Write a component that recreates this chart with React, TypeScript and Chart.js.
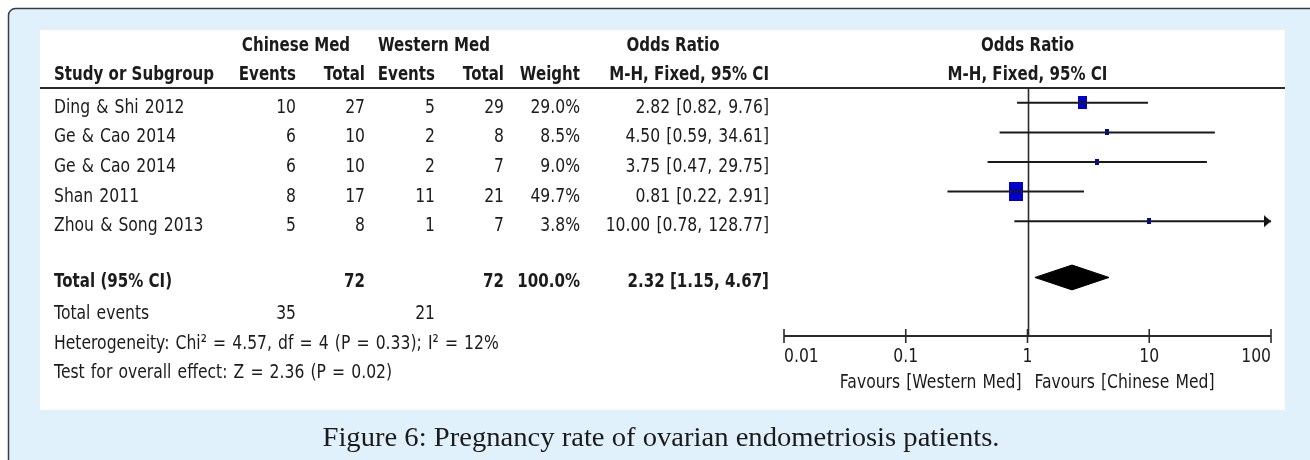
import React, { useEffect, useRef } from "react";
import { Chart, registerables } from "chart.js";

Chart.register(...registerables);

// ---------------- data ----------------
const studies = ["Ding & Shi 2012", "Ge & Cao 2014", "Ge & Cao 2014", "Shan 2011", "Zhou & Song 2013"];
const chineseEvents = [10, 6, 6, 8, 5];
const chineseTotal = [27, 10, 10, 17, 8];
const westernEvents = [5, 2, 2, 11, 1];
const westernTotal = [29, 8, 7, 21, 7];
const weights = [29.0, 8.5, 9.0, 49.7, 3.8];
const oddsRatio = [2.82, 4.5, 3.75, 0.81, 10.0];
const ciLower = [0.82, 0.59, 0.47, 0.22, 0.78];
const ciUpper = [9.76, 34.61, 29.75, 2.91, 128.77];

const totalLabel = "Total (95% CI)";
const totalChinese = 72;
const totalWestern = 72;
const totalWeight = 100.0;
const pooledOR = 2.32;
const pooledLower = 1.15;
const pooledUpper = 4.67;
const totalEventsLabel = "Total events";
const totalEventsChinese = 35;
const totalEventsWestern = 21;
const heterogeneityText = "Heterogeneity: Chi\u00B2 = 4.57, df = 4 (P = 0.33); I\u00B2 = 12%";
const overallEffectText = "Test for overall effect: Z = 2.36 (P = 0.02)";

const axisTicks = [0.01, 0.1, 1, 10, 100];
const axisTickLabels = ["0.01", "0.1", "1", "10", "100"];
const favoursLeft = "Favours [Western Med]";
const favoursRight = "Favours [Chinese Med]";
const caption = "Figure 6: Pregnancy rate of ovarian endometriosis patients.";

// ---------------- layout / style ----------------
const W = 1310;
const H = 460;
const TOTAL_ROW = 5.9;
const FOOT_ROWS = [7, 8, 9];
const HEAD_ROWS = [-2, -1];
const DIAMOND_HALF = 0.42;
const TEXT_COLOR = "#1b1b1b";
const FONT = '"DejaVu Sans", "Liberation Sans", sans-serif';
const FONT_SIZE = 20;

const COL = {
  study: 54,
  ce: 296,
  ct: 365,
  we: 435,
  wt: 504,
  weight: 580,
  ci: 769,
  chineseHead: 296,
  westernHead: 434,
  orHead: 673,
};

const fmtCI = (o: number, l: number, u: number) =>
  `${o.toFixed(2)} [${l.toFixed(2)}, ${u.toFixed(2)}]`;

function makeBox(w: number, h: number, color: string) {
  const c = document.createElement("canvas");
  c.width = Math.max(1, Math.round(w));
  c.height = Math.max(1, Math.round(h));
  const g = c.getContext("2d")!;
  g.fillStyle = color;
  g.fillRect(0, 0, c.width, c.height);
  return c;
}

function makeArrow() {
  const c = document.createElement("canvas");
  c.width = 20;
  c.height = 14;
  const g = c.getContext("2d")!;
  g.fillStyle = "#111";
  g.beginPath();
  g.moveTo(3, 1);
  g.lineTo(10, 7);
  g.lineTo(3, 13);
  g.closePath();
  g.fill();
  return c;
}

export default function App() {
  const ref = useRef<HTMLCanvasElement>(null);

  useEffect(() => {
    document.body.style.margin = "0";
    const canvas = ref.current!;
    const ctx = canvas.getContext("2d")!;

    const maxW = Math.max(...weights);
    const boxes = weights.map((w) => {
      const bw = Math.max(4.2, 13.7 * Math.pow(w / maxW, 0.7));
      return makeBox(bw, bw * 1.36, "#0000c8");
    });
    const arrow = makeArrow();
    const xMax = axisTicks[axisTicks.length - 1];
    const xMin = axisTicks[0];

    const ciSets = studies.map((s, i) => ({
      type: "line" as const,
      label: s,
      data: [
        { x: ciLower[i], y: i },
        { x: ciUpper[i], y: i },
      ],
      borderColor: "#1a1a1a",
      borderWidth: 2,
      pointRadius: 0,
      fill: false,
      tension: 0,
    }));

    const arrowIdx = studies.map((_, i) => i).filter((i) => ciUpper[i] > xMax);

    const datasets: any[] = [
      ...ciSets,
      {
        type: "scatter",
        label: "OR",
        data: oddsRatio.map((v, i) => ({ x: v, y: i })),
        pointStyle: boxes,
        pointRadius: 5,
        showLine: false,
      },
      {
        type: "scatter",
        label: "arrows",
        data: arrowIdx.map((i) => ({ x: xMax, y: i })),
        pointStyle: arrow,
        pointRadius: 5,
        showLine: false,
        clip: false,
      },
      {
        type: "line",
        label: "pooled",
        data: [
          { x: pooledLower, y: TOTAL_ROW },
          { x: pooledOR, y: TOTAL_ROW - DIAMOND_HALF },
          { x: pooledUpper, y: TOTAL_ROW },
          { x: pooledOR, y: TOTAL_ROW + DIAMOND_HALF },
          { x: pooledLower, y: TOTAL_ROW },
        ],
        borderColor: "#000",
        backgroundColor: "#000",
        borderWidth: 1,
        pointRadius: 0,
        fill: "shape",
        tension: 0,
      },
    ];

    const txt = (
      c: CanvasRenderingContext2D,
      s: string,
      x: number,
      y: number,
      align: CanvasTextAlign,
      bold: boolean,
      sx: number,
      size = FONT_SIZE,
      family = FONT,
      wordSpacing = "0px"
    ) => {
      c.save();
      c.font = `${bold ? "bold " : ""}${size}px ${family}`;
      (c as any).wordSpacing = wordSpacing;
      c.textAlign = align;
      c.textBaseline = "alphabetic";
      c.fillStyle = TEXT_COLOR;
      c.translate(x, y);
      c.scale(sx, 1);
      c.fillText(s, 0, 0);
      c.restore();
    };

    const plugin = {
      id: "forestDecor",
      beforeDraw(chart: any) {
        const c: CanvasRenderingContext2D = chart.ctx;
        c.save();
        c.fillStyle = "#ffffff";
        c.fillRect(0, 0, W, H);
        // outer light-blue panel with rounded top-left corner
        const x0 = 8.5, y0 = 8.5, r = 7;
        c.beginPath();
        c.moveTo(x0, H + 20);
        c.lineTo(x0, y0 + r);
        c.arcTo(x0, y0, x0 + r, y0, r);
        c.lineTo(W + 20, y0);
        c.lineTo(W + 20, H + 20);
        c.closePath();
        c.fillStyle = "#e1f1fb";
        c.fill();
        c.strokeStyle = "#3c3c3c";
        c.lineWidth = 1.5;
        c.stroke();
        // white figure panel
        c.fillStyle = "#ffffff";
        c.fillRect(40, 30, 1245, 380);
        c.restore();
      },
      beforeDatasetsDraw(chart: any) {
        const c: CanvasRenderingContext2D = chart.ctx;
        const xs = chart.scales.x;
        const a = chart.chartArea;
        const x1 = Math.round(xs.getPixelForValue(1)) + 0.5;
        c.save();
        c.strokeStyle = "#2a2a2a";
        c.lineWidth = 1.6;
        c.beginPath();
        c.moveTo(x1, a.top);
        c.lineTo(x1, a.bottom);
        c.stroke();
        c.restore();
      },
      afterDraw(chart: any) {
        const c: CanvasRenderingContext2D = chart.ctx;
        const xs = chart.scales.x;
        const ys = chart.scales.y;
        const a = chart.chartArea;

        // squeeze factors so the type matches the reference's narrow face
        c.save();
        c.font = `${FONT_SIZE}px ${FONT}`;
        const sx = 127 / c.measureText("Ding & Shi 2012").width;
        c.font = `bold ${FONT_SIZE}px ${FONT}`;
        const sxb = 160 / c.measureText("Study or Subgroup").width;
        c.restore();
        const WS = "1.5px";
        const reg = (s: string, x: number, y: number, al: CanvasTextAlign) =>
          txt(c, s, x, y, al, false, sx, FONT_SIZE, FONT, WS);
        const bld = (s: string, x: number, y: number, al: CanvasTextAlign) =>
          txt(c, s, x, y, al, true, sxb);

        // header rule
        c.save();
        c.strokeStyle = "#2a2a2a";
        c.lineWidth = 2;
        c.beginPath();
        c.moveTo(40, a.top);
        c.lineTo(1285, a.top);
        c.stroke();
        c.restore();

        // headers
        const h1 = ys.getPixelForValue(HEAD_ROWS[0]) + 7;
        const h2 = ys.getPixelForValue(HEAD_ROWS[1]) + 7;
        const cx = (a.left + a.right) / 2;
        bld("Chinese Med", COL.chineseHead, h1, "center");
        bld("Western Med", COL.westernHead, h1, "center");
        bld("Odds Ratio", COL.orHead, h1, "center");
        bld("Odds Ratio", cx, h1, "center");
        bld("Study or Subgroup", COL.study, h2, "left");
        bld("Events", COL.ce, h2, "right");
        bld("Total", COL.ct, h2, "right");
        bld("Events", COL.we, h2, "right");
        bld("Total", COL.wt, h2, "right");
        bld("Weight", COL.weight, h2, "right");
        bld("M-H, Fixed, 95% CI", COL.ci, h2, "right");
        bld("M-H, Fixed, 95% CI", cx, h2, "center");

        // study rows
        studies.forEach((s, i) => {
          const y = ys.getPixelForValue(i) + 10;
          reg(s, COL.study, y, "left");
          reg(String(chineseEvents[i]), COL.ce, y, "right");
          reg(String(chineseTotal[i]), COL.ct, y, "right");
          reg(String(westernEvents[i]), COL.we, y, "right");
          reg(String(westernTotal[i]), COL.wt, y, "right");
          reg(`${weights[i].toFixed(1)}%`, COL.weight, y, "right");
          reg(fmtCI(oddsRatio[i], ciLower[i], ciUpper[i]), COL.ci, y, "right");
        });

        // total row
        const ty = ys.getPixelForValue(TOTAL_ROW) + 10;
        bld(totalLabel, COL.study, ty, "left");
        bld(String(totalChinese), COL.ct, ty, "right");
        bld(String(totalWestern), COL.wt, ty, "right");
        bld(`${totalWeight.toFixed(1)}%`, COL.weight, ty, "right");
        bld(fmtCI(pooledOR, pooledLower, pooledUpper), COL.ci, ty, "right");

        // footer lines
        const f1 = ys.getPixelForValue(FOOT_ROWS[0]) + 9;
        const f2 = ys.getPixelForValue(FOOT_ROWS[1]) + 9;
        const f3 = ys.getPixelForValue(FOOT_ROWS[2]) + 9;
        reg(totalEventsLabel, COL.study, f1, "left");
        reg(String(totalEventsChinese), COL.ce, f1, "right");
        reg(String(totalEventsWestern), COL.we, f1, "right");
        reg(heterogeneityText, COL.study, f2, "left");
        reg(overallEffectText, COL.study, f3, "left");

        // log axis
        const yb = a.bottom;
        const px = axisTicks.map((t) => xs.getPixelForValue(t));
        c.save();
        c.strokeStyle = "#2a2a2a";
        c.lineWidth = 2;
        c.beginPath();
        c.moveTo(px[0], yb);
        c.lineTo(px[px.length - 1], yb);
        c.stroke();
        c.lineWidth = 1.6;
        px.forEach((p) => {
          c.beginPath();
          c.moveTo(p, yb - 7);
          c.lineTo(p, yb + 7);
          c.stroke();
        });
        c.restore();
        axisTickLabels.forEach((l, i) => {
          const al: CanvasTextAlign = i === 0 ? "left" : i === axisTickLabels.length - 1 ? "right" : "center";
          reg(l, px[i], yb + 26, al);
        });
        const p1 = xs.getPixelForValue(1);
        reg(favoursLeft, p1 - 6, yb + 52, "right");
        reg(favoursRight, p1 + 7, yb + 52, "left");

        // caption
        c.save();
        const capFont = '"Liberation Serif", "DejaVu Serif", serif';
        c.font = `27px ${capFont}`;
        const csx = 677 / c.measureText(caption).width;
        c.restore();
        txt(c, caption, 661, 446, "center", false, csx, 27, capFont);
      },
    };

    const chart = new Chart(ctx, {
      type: "scatter",
      data: { datasets },
      options: {
        animation: false,
        responsive: false,
        maintainAspectRatio: false,
        events: [],
        layout: { padding: { left: 784, right: 39, top: 88, bottom: 124 } },
        plugins: { legend: { display: false }, tooltip: { enabled: false } },
        scales: {
          x: { type: "logarithmic", min: xMin, max: xMax, display: false },
          y: { type: "linear", min: -0.5, max: 7.878, reverse: true, display: false },
        },
      },
      plugins: [plugin],
    } as any);

    return () => chart.destroy();
  }, []);

  return <canvas ref={ref} width={W} height={H} style={{ display: "block", width: W, height: H }} />;
}
